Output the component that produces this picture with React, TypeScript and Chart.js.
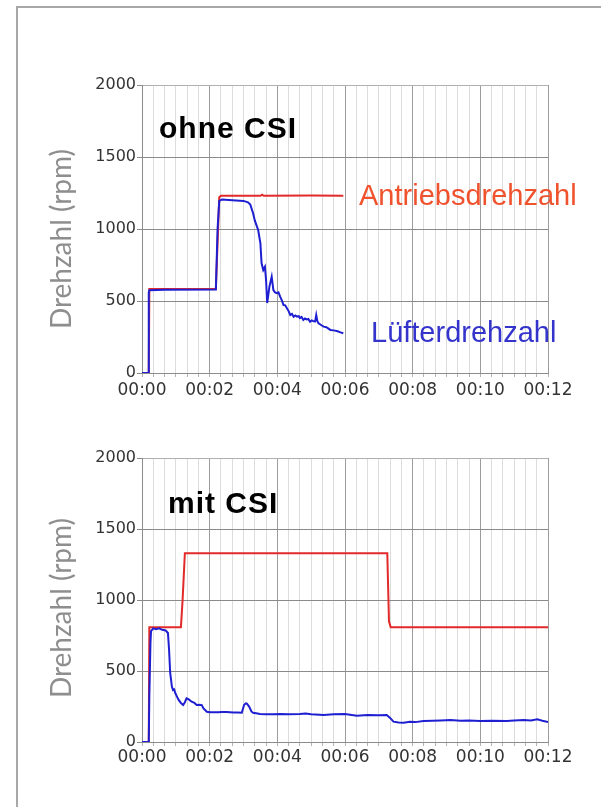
import React, { useEffect, useRef } from "react";
import { Chart, registerables } from "chart.js";

Chart.register(...registerables);

// ---------- data (time in seconds, speed in rpm) ----------
const topDriveT = [12, 13, 131, 137, 140, 210, 213, 216, 300, 357];
const topDriveV = [0, 584, 584, 1220, 1231, 1231, 1238, 1231, 1233, 1231];

const topFanT = [0, 11, 12, 13, 40, 131, 134, 137, 142, 160, 180, 188, 192, 197, 200, 206, 210, 212, 215, 218, 220, 222, 226, 230, 233, 236, 239, 242, 245, 248, 251, 254, 257, 260, 263, 266, 269, 272, 275, 278, 280, 283, 286, 289, 292, 295, 298, 301, 304, 307, 309, 311, 313, 317, 322, 327, 334, 340, 347, 352, 357];
const topFanV = [0, 0, 560, 575, 578, 580, 1000, 1195, 1205, 1200, 1195, 1185, 1170, 1109, 1060, 993, 900, 764, 715, 738, 646, 486, 600, 669, 576, 560, 555, 560, 530, 505, 472, 470, 450, 430, 403, 410, 391, 400, 392, 395, 382, 390, 368, 378, 372, 375, 356, 365, 360, 358, 403, 360, 345, 335, 322, 318, 299, 296, 290, 282, 276];

const botDriveT = [0, 12, 13, 69, 72, 76, 435, 438, 441, 720];
const botDriveV = [0, 0, 808, 808, 1000, 1329, 1329, 850, 808, 808];

const botFanT = [0, 12, 13, 15, 16, 20, 25, 30, 36, 42, 46, 48, 50, 53, 55, 57, 59, 62, 65, 69, 73, 76, 79, 83, 88, 93, 97, 102, 106, 109, 115, 120, 127, 135, 142, 150, 156, 162, 170, 177, 181, 184, 186, 190, 194, 197, 205, 209, 220, 233, 245, 260, 280, 290, 300, 322, 340, 360, 381, 400, 420, 434, 440, 446, 455, 464, 475, 485, 499, 515, 530, 547, 565, 580, 600, 620, 647, 660, 677, 690, 701, 710, 720];
const botFanV = [0, 0, 320, 700, 780, 800, 795, 800, 790, 785, 768, 650, 486, 390, 366, 370, 345, 320, 296, 275, 261, 280, 308, 300, 284, 275, 261, 262, 260, 237, 213, 210, 209, 210, 212, 211, 209, 207, 208, 206, 261, 272, 270, 249, 215, 206, 200, 197, 196, 195, 198, 195, 197, 200, 196, 190, 196, 197, 185, 190, 189, 190, 170, 143, 137, 136, 142, 140, 148, 150, 152, 155, 150, 152, 148, 150, 148, 152, 155, 152, 160, 150, 141];

const yTicks = [0, 500, 1000, 1500, 2000];
const xMajorEvery = 120; // seconds between labelled ticks
const xMinorStep = 20;   // seconds between minor grid lines
const xMax = 720;

const seriesNames = ["Lüfterdrehzahl", "Antriebsdrehzahl"];
const titles = ["ohne CSI", "mit CSI"];
const yTitle = "Drehzahl (rpm)";

const RED = "#e22a2a";
const BLUE = "#1f1fd2";

const toPts = (t: number[], v: number[]) => t.map((x, i) => ({ x, y: v[i] }));

const textPlugin = {
  id: "overlayText",
  afterDraw(chart: any, _args: any, opts: any) {
    const ctx = chart.ctx as CanvasRenderingContext2D;
    for (const it of opts.items || []) {
      ctx.save();
      ctx.font = it.font;
      ctx.fillStyle = it.color;
      (ctx as any).letterSpacing = it.spacing || "0px";
      ctx.textBaseline = "alphabetic";
      ctx.textAlign = it.align || "left";
      ctx.translate(it.x, it.y);
      if (it.rotate) ctx.rotate(it.rotate);
      ctx.fillText(it.text, 0, 0);
      ctx.restore();
    }
  },
};

function makeConfig(fan: any[], drive: any[], items: any[], padBottom: number, labelPad: number) {
  return {
    type: "line",
    data: {
      datasets: [
        { label: seriesNames[0], data: fan, borderColor: BLUE, borderWidth: 2, pointRadius: 0, tension: 0, fill: false },
        { label: seriesNames[1], data: drive, borderColor: RED, borderWidth: 2, pointRadius: 0, tension: 0, fill: false },
      ],
    },
    options: {
      animation: false,
      responsive: false,
      devicePixelRatio: 1,
      layout: { padding: { left: 40, right: 53, top: 0, bottom: padBottom } },
      plugins: {
        legend: { display: false },
        tooltip: { enabled: false },
        overlayText: { items },
      },
      scales: {
        x: {
          type: "linear",
          min: 0,
          max: xMax,
          afterFit: (s: any) => { s.height = 24; },
          border: { color: "#8c8c8c", width: 1 },
          grid: {
            color: (c: any) => (c.tick && c.tick.value % xMajorEvery === 0 ? "#9c9c9c" : "#dcdcdc"),
            tickColor: "#b4b4b4",
            tickLength: 4,
            lineWidth: 1,
          },
          ticks: {
            stepSize: xMinorStep,
            autoSkip: false,
            maxRotation: 0,
            padding: labelPad,
            color: "#333333",
            font: { family: "DejaVu Sans", size: 17 },
            callback: (v: number) => (v % xMajorEvery === 0 ? "00:" + String(v / 60).padStart(2, "0") : ""),
          },
        },
        y: {
          min: yTicks[0],
          max: yTicks[yTicks.length - 1],
          afterFit: (s: any) => { s.width = 102; },
          border: { color: "#8c8c8c", width: 1 },
          grid: {
            color: (c: any) => (c.tick && c.tick.value === 2000 ? "#b0b0b0" : "#8a8a8a"),
            tickColor: "#8a8a8a",
            tickLength: 5,
            lineWidth: 1,
          },
          afterBuildTicks: (s: any) => { s.ticks = yTicks.map((v) => ({ value: v })); },
          ticks: {
            padding: 1,
            color: "#333333",
            font: { family: "DejaVu Sans", size: 16 },
            callback: (v: number) => String(v),
          },
        },
      },
    },
    plugins: [textPlugin],
  } as any;
}

function ChartBox(props: { top: number; height: number; fan: any[]; drive: any[]; items: any[]; chartTop: number; chartBottom: number; labelPad: number }) {
  const ref = useRef<HTMLCanvasElement | null>(null);
  useEffect(() => {
    if (!ref.current) return;
    const padBottom = props.height - props.chartBottom - 24;
    const cfg = makeConfig(props.fan, props.drive, props.items, padBottom, props.labelPad);
    cfg.options.layout.padding.top = props.chartTop;
    const ch = new Chart(ref.current, cfg);
    return () => ch.destroy();
  }, []);
  return (
    <canvas
      ref={ref}
      width={601}
      height={props.height}
      style={{ position: "absolute", left: 0, top: props.top, width: 601, height: props.height }}
    />
  );
}

export default function App() {
  const titleFont = "28px Lato";
  const grey = "#8e8e8e";
  const topItems = [
    { text: titles[0], x: 159, y: 138, font: "bold 30px 'Liberation Sans', Arial", color: "#000", spacing: "1px" },
    { text: seriesNames[1], x: 359, y: 205, font: "29px 'Liberation Sans', Arial", color: "#f0522d" },
    { text: seriesNames[0], x: 371, y: 342, font: "29px 'Liberation Sans', Arial", color: "#3434cc" },
    { text: yTitle, x: 71, y: 239, font: titleFont, color: grey, rotate: -Math.PI / 2, align: "center" },
  ];
  const botItems = [
    { text: titles[1], x: 168, y: 113, font: "bold 30px 'Liberation Sans', Arial", color: "#000", spacing: "1px" },
    { text: yTitle, x: 71, y: 208, font: titleFont, color: grey, rotate: -Math.PI / 2, align: "center" },
  ];
  return (
    <div style={{ position: "absolute", left: 0, top: 0, width: 601, height: 807, overflow: "hidden", background: "#fff" }}>
      <div style={{ position: "absolute", left: 16, top: 6, width: 700, height: 900, border: "2px solid #a8a8a8", boxSizing: "border-box" }} />
      <ChartBox top={0} height={400} chartTop={85} chartBottom={373} labelPad={3} fan={toPts(topFanT, topFanV)} drive={toPts(topDriveT, topDriveV)} items={topItems} />
      <ChartBox top={400} height={407} chartTop={58} chartBottom={342} labelPad={1} fan={toPts(botFanT, botFanV)} drive={toPts(botDriveT, botDriveV)} items={botItems} />
    </div>
  );
}
